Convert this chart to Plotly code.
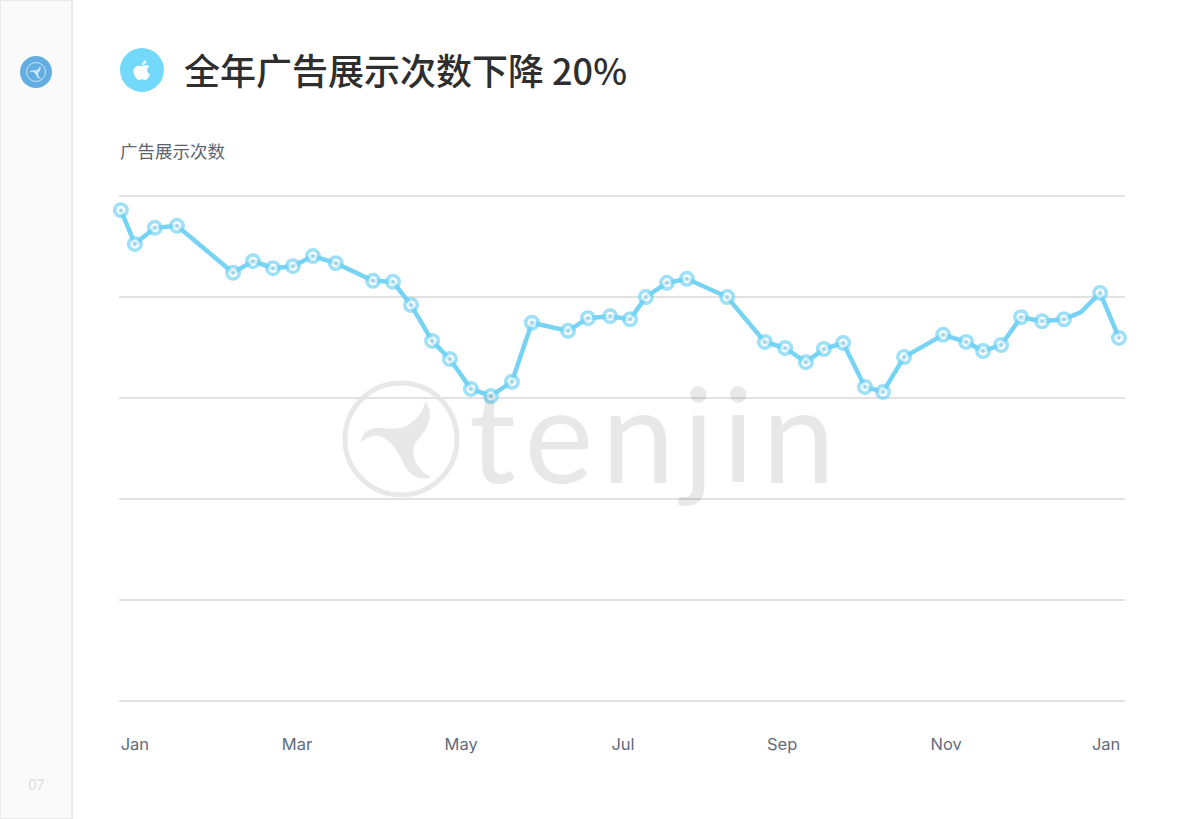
import plotly.graph_objects as go

W, H = 1200, 819

# day of year / impressions index
DAYS = [0, 5.1, 12.4, 20.5, 41, 48.3, 55.6, 62.9, 70.2, 78.6, 92.2, 99.5, 106.1, 113.8, 120.3,
        128, 135.3, 143, 150.3, 163.5, 170.8, 178.9, 186.2, 192, 199.7, 207, 221.7, 235.5,
        242.9, 250.5, 257.1, 264.1, 272.1, 278.7, 286.4, 300.7, 309.1, 315.3, 321.9, 329.2,
        336.9, 344.9, 351.1, 358.1, 365]
IMPRESSIONS = [97.2, 90.5, 93.7, 94.1, 84.8, 87.1, 85.7, 86.1, 88.1, 86.7, 83.2, 83.0, 78.4,
               71.3, 67.7, 61.8, 60.4, 63.2, 74.9, 73.3, 75.8, 76.2, 75.6, 80.0, 82.8, 83.6,
               80.0, 71.1, 69.9, 67.1, 69.7, 70.9, 62.2, 61.2, 68.1, 72.5, 71.1, 69.3, 70.5,
               76.0, 75.2, 75.6, 77.0, 80.8, 71.9]
NO_MARKER_DAY = 351.1
TICK_DAYS = [5.1, 64.4, 124.4, 183.6, 241.8, 301.8, 360.3]
TICK_LABELS = ["Jan", "Mar", "May", "Jul", "Sep", "Nov", "Jan"]

TITLE = "全年广告展示次数下降 20%"
SUBTITLE = "广告展示次数"

_BLUE = "#76d3f4"
_GRID = "#e2e2e2"
_MARK = "#e8e8e8"
_CJK = "Noto Sans CJK SC"

SWIRL = [("M", .42, -.66), ("C", .56, -.45, .5, -.22, .3, 0), ("C", .15, .15, .18, .5, .53, .66),
         ("C", .3, .74, .12, .6, .05, .43), ("C", -.03, .25, -.18, -.02, -.41, -.06),
         ("C", -.52, -.05, -.62, 0, -.70, .06), ("C", -.66, -.1, -.58, -.2, -.35, -.19),
         ("C", -.1, -.16, .05, -.17, .2, -.3), ("C", .3, -.38, .4, -.5, .42, -.66)]
APPLE_BODY = [("M", 0, -3.5), ("C", -2, -5, -8, -5, -8.5, 1), ("C", -8.7, 5, -5, 10, -3, 10),
              ("C", -1.5, 10, -1, 9, 0, 9), ("C", 1, 9, 1.5, 10, 3, 10), ("C", 5, 10, 7, 7, 8, 4.5),
              ("C", 4.5, 3, 4, -2, 7.5, -3.5), ("C", 6, -5.5, 2, -5, 0, -3.5)]
APPLE_LEAF = [("M", 0, -4.5), ("C", 0, -7.5, 2, -9.5, 4, -10), ("C", 4.3, -7, 2.5, -5, 0, -4.5)]


def _px(x):
    return x / W


def _py(y):
    return 1 - y / H


def _path(cmds, cx, cy, scale):
    """SVG path in paper coords from commands given around a pixel centre."""
    out = []
    for c in cmds:
        pts = c[1:]
        coords = [f"{_px(cx + pts[i] * scale):.5f},{_py(cy + pts[i + 1] * scale):.5f}"
                  for i in range(0, len(pts), 2)]
        out.append(c[0] + " ".join(coords))
    return " ".join(out) + " Z"


def _blob(cmds, cx, cy, scale, color):
    return dict(type="path", xref="paper", yref="paper", layer="below",
                path=_path(cmds, cx, cy, scale), fillcolor=color, line_width=0)


def _circle(cx, cy, r, fill, line_color=None, line_width=0):
    return dict(type="circle", xref="paper", yref="paper", layer="below",
                x0=_px(cx - r), x1=_px(cx + r), y0=_py(cy + r), y1=_py(cy - r),
                fillcolor=fill, line_color=line_color, line_width=line_width)


def _label(x, y, text, size, color, family, xanchor="left", weight=400):
    return dict(x=_px(x), y=_py(y), xref="paper", yref="paper", text=text, showarrow=False,
                xanchor=xanchor, yanchor="middle",
                font=dict(size=size, color=color, family=family, weight=weight))


fig = go.Figure()
fig.add_trace(go.Scatter(
    x=DAYS, y=IMPRESSIONS, mode="lines+markers",
    line=dict(color=_BLUE, width=4.5),
    marker=dict(size=[0 if d == NO_MARKER_DAY else 12.5 for d in DAYS], color="#f8fdff",
                line=dict(color=_BLUE, width=3.5)),
    cliponaxis=False, hoverinfo="skip",
))
# the tiny logo inside each marker
fig.add_trace(go.Scatter(
    x=[d for d in DAYS if d != NO_MARKER_DAY],
    y=[v for d, v in zip(DAYS, IMPRESSIONS) if d != NO_MARKER_DAY],
    mode="markers", marker=dict(size=3.5, color="#a6cfe0"),
    cliponaxis=False, hoverinfo="skip",
))

fig.update_layout(
    width=W, height=H, autosize=False, showlegend=False,
    margin=dict(l=0, r=0, t=0, b=0),
    paper_bgcolor="white", plot_bgcolor="rgba(0,0,0,0)",
    xaxis=dict(domain=[_px(119), _px(1125)], range=[-0.7, 367.2], showgrid=False, zeroline=False,
               showline=False, tickmode="array", tickvals=TICK_DAYS, ticktext=TICK_LABELS,
               ticks="outside", ticklen=26, tickcolor="rgba(0,0,0,0)",
               tickfont=dict(size=16.5, color="#636c7a", family="Inter")),
    # range runs 2px past 0 and 100, plotly drops grid lines that sit on the axis ends
    yaxis=dict(domain=[_py(703), _py(194)], range=[-0.396, 100.396], dtick=20, showticklabels=False,
               gridcolor=_GRID, gridwidth=1.5, zeroline=False, showline=False),
    shapes=[
        dict(type="rect", xref="paper", yref="paper", layer="below", x0=0, x1=_px(72), y0=0, y1=1,
             fillcolor="#fafafa", line=dict(color="#e6e6e6", width=1.5)),
        _circle(36, 72, 16, "#62ade2"),
        _circle(36, 72, 9.5, "rgba(0,0,0,0)", "#cfe6f6", 1),
        _blob(SWIRL, 36, 72, 9.5, "#cfe6f6"),
        _circle(142, 70, 22, "#73d9fb"),
        _blob(APPLE_BODY, 142, 70, 1, "white"),
        _blob(APPLE_LEAF, 142, 70, 1, "white"),
        _circle(401, 439, 56, "rgba(0,0,0,0)", _MARK, 5),
        _blob(SWIRL, 401, 439, 58, _MARK),
    ],
    annotations=[
        _label(182, 69, TITLE, 36, "#2e2e2e", _CJK, weight=500),
        _label(118, 150, SUBTITLE, 17.5, "#5c6470", _CJK),
        _label(36, 784, "07", 14, "#dcdcdc", "Inter", "center"),
        _label(652, 432, "t\u200ae\u200an\u200aj\u200ai\u200an", 131, "rgba(0,0,0,0.09)", "Lato", "center"),
    ],
)

fig.write_html("out.html", config={"displayModeBar": False},
               post_script="document.body.style.margin='0';")
